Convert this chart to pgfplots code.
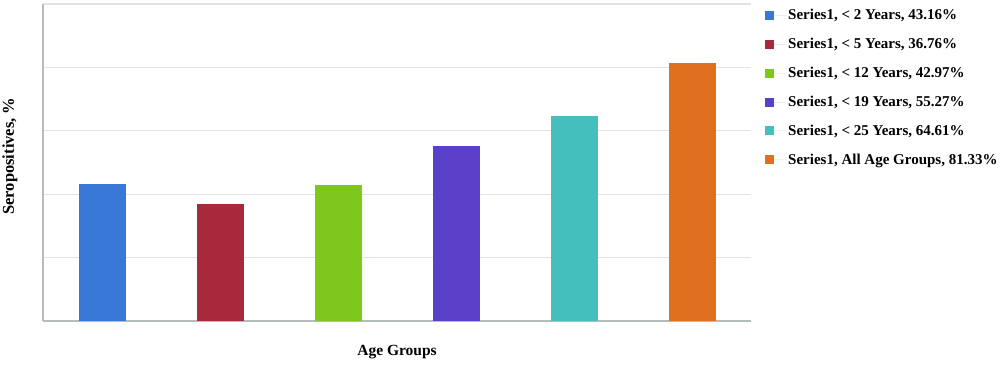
\documentclass[border=0pt]{standalone}
\usepackage{pgfplots}
\pgfplotsset{compat=1.18}
\usepackage{fontspec}
\setmainfont{Liberation Serif}
\definecolor{cblue}{HTML}{3A78D8}
\definecolor{cred}{HTML}{A8283C}
\definecolor{cgreen}{HTML}{7EC81E}
\definecolor{cpurple}{HTML}{5A40C8}
\definecolor{cteal}{HTML}{44BFBE}
\definecolor{corange}{HTML}{E07020}
\definecolor{axgray}{HTML}{B4BCBC}
\definecolor{gridgray}{HTML}{E2E2E2}
\begin{document}
\begin{tikzpicture}[x=1pt,y=1pt]
\path[use as bounding box] (0,0) rectangle (1000,368);
\begin{axis}[
  at={(43pt,47pt)}, anchor=south west,
  width=708pt, height=317pt, scale only axis,
  xmin=-0.5, xmax=5.5, ymin=0, ymax=100,
  ytick={0,20,40,60,80,100}, yticklabels={},
  xtick=\empty,
  ymajorgrids, grid style={gridgray, line width=1.2pt},
  axis x line*=bottom, axis y line*=left,
  axis line style={-, axgray, line width=2pt},
  major tick length=0pt,
  ybar, bar width=47pt, bar shift=0pt,
  xlabel={\bfseries Age Groups},
  ylabel={\bfseries Seropositives, \%},
  xlabel style={font=\fontsize{15.5}{17}\selectfont, at={(ticklabel cs:0.5)}, yshift=-21pt},
  ylabel style={font=\fontsize{16.5}{18}\selectfont, at={(axis description cs:0,0.52)}, anchor=south, yshift=22pt},
  legend style={at={(rel axis cs:1.0198,0.99)}, anchor=north west, draw=none, fill=none,
    font=\fontsize{15}{17}\selectfont\bfseries, row sep=13pt, inner sep=0pt,
    cells={anchor=west}},
  legend image code/.code={\fill[#1] (0pt,-4.5pt) rectangle (9pt,4.5pt); \path (0pt,0pt) -- (21pt,0pt);},
]
\addplot[draw=none, fill=cblue] coordinates {(0,43.16)};
\addlegendentry{Series1, < 2 Years, 43.16\%}
\addplot[draw=none, fill=cred] coordinates {(1,36.76)};
\addlegendentry{Series1, < 5 Years, 36.76\%}
\addplot[draw=none, fill=cgreen] coordinates {(2,42.97)};
\addlegendentry{Series1, < 12 Years, 42.97\%}
\addplot[draw=none, fill=cpurple] coordinates {(3,55.27)};
\addlegendentry{Series1, < 19 Years, 55.27\%}
\addplot[draw=none, fill=cteal] coordinates {(4,64.61)};
\addlegendentry{Series1, < 25 Years, 64.61\%}
\addplot[draw=none, fill=corange] coordinates {(5,81.33)};
\addlegendentry{Series1, All Age Groups, 81.33\%}
\end{axis}
\end{tikzpicture}
\end{document}
